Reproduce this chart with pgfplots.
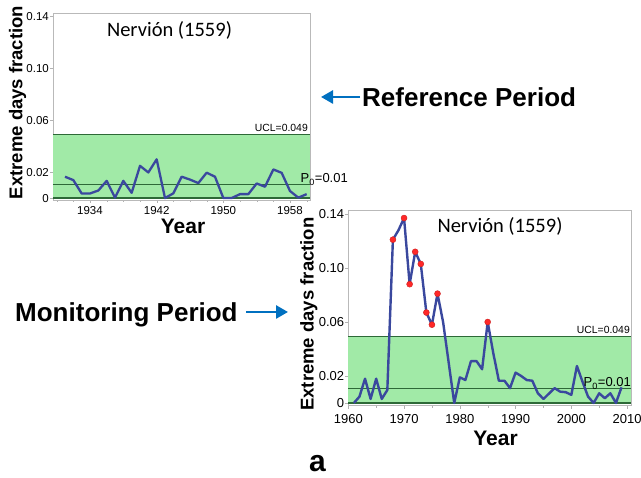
\documentclass[border=0pt]{standalone}
\usepackage{pgfplots}
\usepackage{pgfplotstable}
\pgfplotsset{compat=1.18}
\usepackage{fontspec}
\setmainfont{Liberation Sans}
\newfontfamily\calibri{Carlito}
\usetikzlibrary{arrows.meta}

\definecolor{bandgreen}{RGB}{161,234,167}
\definecolor{limgreen}{RGB}{45,105,55}
\definecolor{seriesblue}{RGB}{58,72,158}
\definecolor{dotred}{RGB}{255,40,40}
\definecolor{arrowblue}{RGB}{0,112,192}

% reference period 1931-1960
\pgfplotstableread{
year frac
1931 0.0164
1932 0.0138
1933 0.0035
1934 0.0035
1935 0.0058
1936 0.0132
1937 0.0003
1938 0.0132
1939 0.0040
1940 0.0248
1941 0.0197
1942 0.0298
1943 0.0
1944 0.0036
1945 0.0164
1946 0.0142
1947 0.0115
1948 0.0195
1949 0.0164
1950 0.0
1951 0.0
1952 0.0030
1953 0.0030
1954 0.0112
1955 0.0087
1956 0.0220
1957 0.0194
1958 0.0054
1959 0.0003
1960 0.0030
}\refdata

% monitoring period 1961-2009
\pgfplotstableread{
year frac
1961 0.0
1962 0.0047
1963 0.018
1964 0.003
1965 0.018
1966 0.003
1967 0.0096
1968 0.121
1969 0.128
1970 0.137
1971 0.088
1972 0.112
1973 0.103
1974 0.067
1975 0.058
1976 0.081
1977 0.060
1978 0.030
1979 0.0
1980 0.019
1981 0.017
1982 0.031
1983 0.031
1984 0.025
1985 0.060
1986 0.037
1987 0.0165
1988 0.0165
1989 0.011
1990 0.0225
1991 0.020
1992 0.017
1993 0.0165
1994 0.0072
1995 0.003
1996 0.007
1997 0.011
1998 0.0084
1999 0.008
2000 0.006
2001 0.0274
2002 0.0158
2003 0.0047
2004 0.0
2005 0.0072
2006 0.0035
2007 0.0072
2008 0.0
2009 0.0116
}\mondata

% years above the UCL
\pgfplotstableread{
year frac
1968 0.121
1970 0.137
1971 0.088
1972 0.112
1973 0.103
1974 0.067
1975 0.058
1976 0.081
1985 0.060
}\outdata

\pgfplotsset{
  pchart/.style={
    scale only axis, anchor=south west,
    axis line style={gray!55},
    tick style={gray!60},
    tick align=outside,
    major tick length=3pt, minor tick length=2pt,
    xtick pos=bottom, ytick pos=left,
    ytick={0,0.02,0.06,0.10,0.14},
    yticklabels={0,0.02,0.06,0.10,0.14},
    yticklabel style={anchor=east, inner sep=1pt},
    ylabel={Extreme days fraction},
    xlabel={Year},
    ylabel style={font=\bfseries\fontsize{18.5}{20}\selectfont, anchor=center},
    xlabel style={font=\bfseries\fontsize{21}{22}\selectfont, anchor=center},
    clip=false,
  },
}

\begin{document}
\begin{tikzpicture}
\path[use as bounding box] (0pt,0pt) rectangle (641pt,478pt);

% reference period
\begin{axis}[pchart,
  at={(53pt,278pt)}, width=257pt, height=186.5pt,
  xmin=1929.56, xmax=1960.4, ymin=-0.0015, ymax=0.142,
  xtick={1934,1942,1950,1958}, xticklabels={1934,1942,1950,1958},
  minor xtick={1930,1932,...,1960},
  ticklabel style={font=\fontsize{11.5}{12}\selectfont},
  ylabel style={at={(axis description cs:-0.138,0.523)}},
  xlabel style={at={(axis description cs:0.506,-0.139)}},
]
\addplot[draw=none, fill=bandgreen] coordinates {(1929.56,0.049) (1960.4,0.049)} \closedcycle;
\addplot[limgreen, line width=1pt] coordinates {(1929.56,0.049) (1960.4,0.049)};
\addplot[limgreen, line width=1pt] coordinates {(1929.56,0.0105) (1960.4,0.0105)};
\addplot[limgreen, line width=1.4pt] coordinates {(1929.56,0) (1960.4,0)};
\addplot[seriesblue, line width=2.3pt, line join=round] table[x=year, y=frac] {\refdata};
\end{axis}

% monitoring period
\begin{axis}[pchart,
  at={(348.3pt,72.3pt)}, width=282.7pt, height=195.75pt,
  xmin=1960, xmax=2010.7, ymin=-0.002, ymax=0.143,
  xtick={1960,1970,...,2010}, xticklabels={1960,1970,1980,1990,2000,2010},
  minor xtick={1965,1975,...,2005},
  ticklabel style={font=\fontsize{13}{14}\selectfont},
  xticklabel style={yshift=-2pt},
  ylabel style={at={(axis description cs:-0.140,0.468)}},
  xlabel style={at={(axis description cs:0.521,-0.165)}},
]
\addplot[draw=none, fill=bandgreen] coordinates {(1960,0.049) (2010.7,0.049)} \closedcycle;
\addplot[limgreen, line width=1pt] coordinates {(1960,0.049) (2010.7,0.049)};
\addplot[limgreen, line width=1pt] coordinates {(1960,0.0105) (2010.7,0.0105)};
\addplot[limgreen, line width=1.2pt] coordinates {(1960,0) (2010.7,0)};
\addplot[seriesblue, line width=2.4pt, line join=round] table[x=year, y=frac] {\mondata};
\addplot[only marks, mark=*, mark size=3pt,
  mark options={fill=dotred, draw=dotred!80!black, line width=0.4pt}]
  table[x=year, y=frac] {\outdata};
\end{axis}

% chart texts
\node[font=\calibri\fontsize{20.5}{22}\selectfont, anchor=center] at (169.5pt,447.3pt) {Nervión (1559)};
\node[font=\calibri\fontsize{20.5}{22}\selectfont, anchor=center] at (500pt,251.3pt) {Nervión (1559)};
\node[font=\fontsize{10.4}{11}\selectfont, anchor=base east, inner sep=0pt] at (308pt,346.3pt) {UCL=0.049};
\node[font=\fontsize{13}{14}\selectfont, anchor=base east, inner sep=0pt] at (348pt,295pt) {P\textsubscript{0}=0.01};
\node[font=\fontsize{10.4}{11}\selectfont, anchor=base east, inner sep=0pt] at (630pt,144.7pt) {UCL=0.049};
\node[font=\fontsize{13}{14}\selectfont, anchor=base east, inner sep=0pt] at (631pt,91pt) {P\textsubscript{0}=0.01};

% period labels
\draw[arrowblue, line width=2.7pt, -{Triangle[length=12pt,width=13pt]}] (360pt,381pt) -- (321pt,381pt);
\node[font=\bfseries\fontsize{26}{28}\selectfont, anchor=base west, inner sep=0pt] at (362pt,371.7pt) {Reference Period};
\draw[arrowblue, line width=2.7pt, -{Triangle[length=12pt,width=13pt]}] (246pt,166pt) -- (288pt,166pt);
\node[font=\bfseries\fontsize{26}{28}\selectfont, anchor=base west, inner sep=0pt] at (15pt,156.7pt) {Monitoring Period};

\node[font=\bfseries\fontsize{30}{32}\selectfont, anchor=base west, inner sep=0pt] at (309pt,6pt) {a};
\end{tikzpicture}
\end{document}
